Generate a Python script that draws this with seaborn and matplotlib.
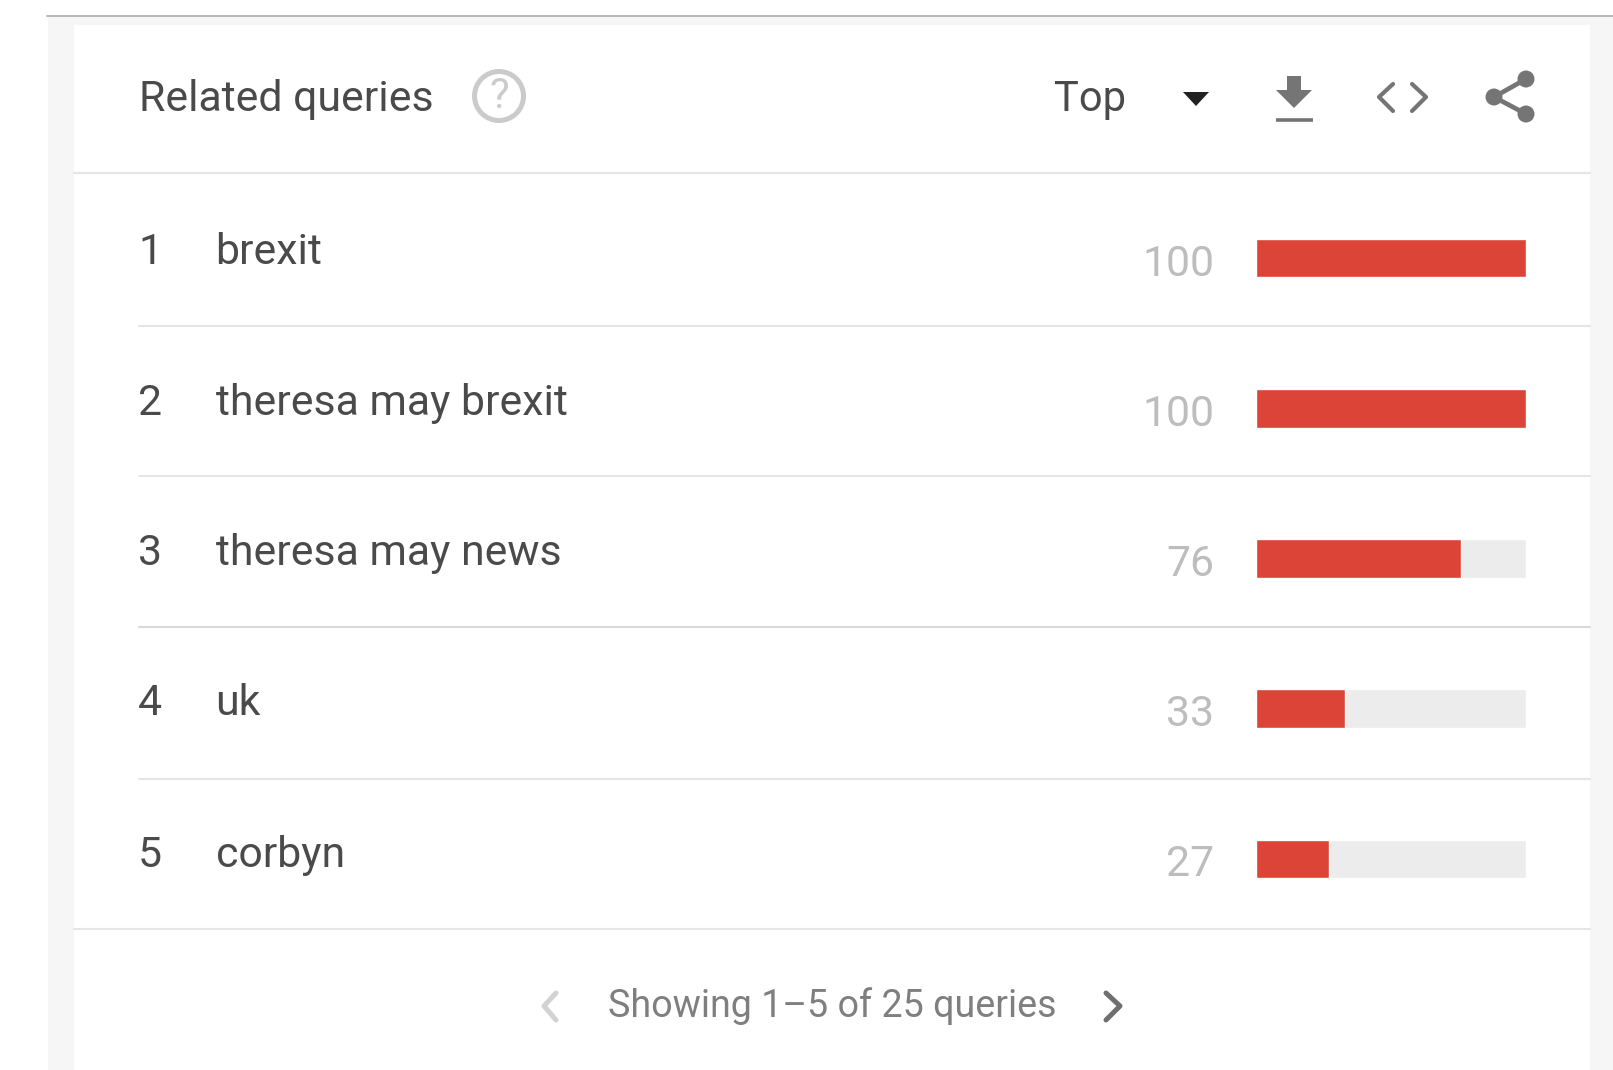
import matplotlib
matplotlib.use("Agg")
import matplotlib.pyplot as plt
from matplotlib.patches import Rectangle, Circle, Polygon
import seaborn as sns
import pandas as pd

# Table contents
panel_title = "Related queries"
mode_label = "Top"
footer_label = "Showing 1\u20135 of 25 queries"
ranks = [1, 2, 3, 4, 5]
queries = ["brexit", "theresa may brexit", "theresa may news", "uk", "corbyn"]
values = [100, 100, 76, 33, 27]
scale_max = 100

W, H = 1613, 1070
RED, TRACK = "#db4437", "#ececec"
INK, MUTED, FAINT, RULE = "#4a4a4a", "#7f7f7f", "#bdbdbd", "#e6e6e6"
TEXT_PT = 30.8

sns.set_theme(style="white")
plt.rcParams["font.family"] = ["Roboto", "DejaVu Sans"]

fig = plt.figure(figsize=(W / 100, H / 100), dpi=100, facecolor="white")

# Page chrome is laid out in pixel units on a full-figure axes
page = fig.add_axes([0, 0, 1, 1], zorder=1)
page.set_xlim(0, W)
page.set_ylim(H, 0)
page.axis("off")

page.add_patch(Rectangle((48, 16), W - 48, H - 16, fc="#f6f6f6", ec="none"))
page.add_patch(Rectangle((74, 25), 1590 - 74, H - 25, fc="white", ec="none"))
page.plot([47, W], [15.5, 15.5], color="#ababab", lw=1.2)

page.plot([74, 1590], [173, 173], color=RULE, lw=1.5)
page.plot([74, 1590], [929, 929], color=RULE, lw=1.5)

for y, shade in zip([326, 476, 626.5, 779], [RULE, RULE, "#d9d9d9", RULE]):
    page.plot([139, 1590], [y, y], color=shade, lw=1.5)

page.text(139, 100, panel_title, fontsize=TEXT_PT, color=INK, va="center", ha="left")
page.add_patch(Circle((499, 96), 24.5, fc="none", ec="#cbcbcb", lw=3.6))
page.text(499, 97, "?", fontsize=30, color="#cbcbcb", va="center", ha="center")

page.text(1054, 99, mode_label, fontsize=30, color=INK, va="center", ha="left")
page.add_patch(Polygon([(1183, 92), (1209, 92), (1196, 106)], fc="#222222", ec="none"))

# Download icon
page.add_patch(Polygon([(1287, 76), (1301, 76), (1301, 90), (1312, 90), (1294, 108),
                        (1276, 90), (1287, 90)], fc="#757575", ec="none"))
page.plot([1276, 1313], [119.5, 119.5], color="#757575", lw=2.6, solid_capstyle="butt")

# Embed icon
page.plot([1393, 1379, 1393], [84, 97, 111], color="#757575", lw=3)
page.plot([1412, 1426, 1412], [84, 97, 111], color="#757575", lw=3)

# Share icon
page.plot([1526, 1494, 1526], [79, 97, 114], color="#757575", lw=3.4)
for cx, cy in [(1526, 79), (1494, 97), (1526, 114)]:
    page.add_patch(Circle((cx, cy), 8.5, fc="#757575", ec="none"))

# Footer pager
page.text(608, 1006, footer_label, fontsize=27.1, color=MUTED, va="center", ha="left")
page.plot([556, 544, 556], [993, 1006, 1020], color="#d2d2d2", lw=3.6)
page.plot([1106, 1120, 1106], [993, 1006, 1020], color="#6f6f6f", lw=3.6)

# Bar column: grey track behind the red share of each query
bars = fig.add_axes([1256 / W, 1 - 934 / H, (1526 - 1256) / W, (934 - 183) / H], zorder=2)
bars.patch.set_alpha(0)
table = pd.DataFrame({"query": queries, "value": values, "track": [scale_max] * len(values)})
sns.barplot(data=table, x="track", y="query", color=TRACK, saturation=1, width=0.258, ax=bars)
sns.barplot(data=table, x="value", y="query", color=RED, saturation=1, width=0.258, ax=bars)
bars.set_xlim(0, scale_max)
bars.set_ylim(len(values) - 0.5, -0.5)
bars.axis("off")

# Row text sits in pixel space, with values taken from the same lists as the bars
pitch = 150.2
label_nudge = [0, 0, 0, 0, 2]
for i, (rank, query, value) in enumerate(zip(ranks, queries, values)):
    y_text = 253 + i * pitch + label_nudge[i]
    y_value = 264 + i * pitch
    page.text(138, y_text, str(rank), fontsize=TEXT_PT, color=INK, va="center", ha="left")
    page.text(215.5, y_text, query, fontsize=TEXT_PT, color=INK, va="center", ha="left")
    page.text(1214, y_value, str(value), fontsize=TEXT_PT, color=FAINT, va="center", ha="right")

fig.savefig("out.png", dpi=100, facecolor="white")
